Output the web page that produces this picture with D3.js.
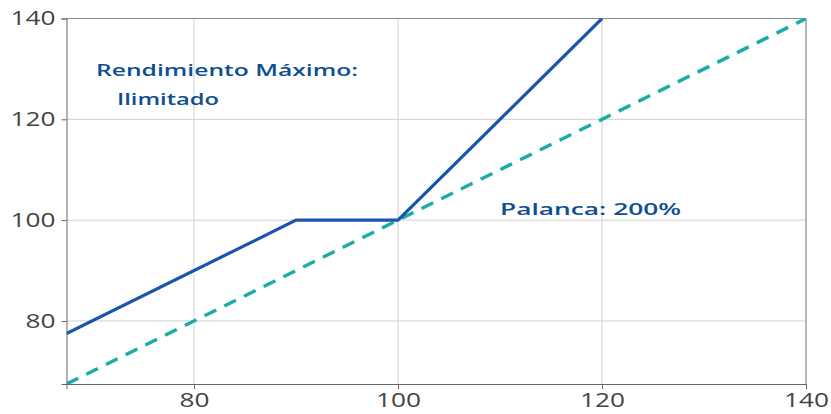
<!DOCTYPE html>
<html lang="es">
<head>
<meta charset="utf-8">
<title>Palanca</title>
<script src="https://cdn.jsdelivr.net/npm/d3@7"></script>
<style>
  body { margin: 0; background: #fff; }
  .tick text { font-family: "Open Sans", sans-serif; font-size: 19.5px; fill: #444; }
  .note { font-family: "Open Sans", sans-serif; font-size: 17px; font-weight: 600; fill: #0d4f91; }
</style>
</head>
<body>
<script>
  // datos
  var precioSubyacente = [67.5, 90, 100, 120];
  var rendimientoProducto = [77.5, 100, 100, 140];
  var referenciaX = [67.5, 140];
  var referenciaY = [67.5, 140];
  var ticksX = [80, 100, 120, 140];
  var ticksY = [80, 100, 120, 140];

  var width = 831, height = 414;
  var margin = { top: 18.5, right: 25, bottom: 30, left: 66.5 };

  var svg = d3.select('body').append('svg')
    .attr('width', width)
    .attr('height', height);

  var x = d3.scaleLinear().domain([67.5, 140]).range([margin.left, width - margin.right]);
  var y = d3.scaleLinear().domain([67.5, 140]).range([height - margin.bottom, margin.top]);

  svg.append('clipPath').attr('id', 'plot')
    .append('rect')
    .attr('x', margin.left).attr('y', margin.top)
    .attr('width', x.range()[1] - margin.left)
    .attr('height', y.range()[0] - margin.top);

  // rejilla
  svg.append('g').selectAll('line').data(ticksX).enter().append('line')
    .attr('x1', d => x(d)).attr('x2', d => x(d))
    .attr('y1', margin.top).attr('y2', y.range()[0])
    .attr('stroke', '#d0d0d0').attr('stroke-width', 1);
  svg.append('g').selectAll('line').data(ticksY).enter().append('line')
    .attr('y1', d => y(d)).attr('y2', d => y(d))
    .attr('x1', margin.left).attr('x2', x.range()[1])
    .attr('stroke', '#d0d0d0').attr('stroke-width', 1);

  // borde superior y derecho
  svg.append('path')
    .attr('d', `M${margin.left},${margin.top}H${x.range()[1]}V${y.range()[0]}`)
    .attr('fill', 'none').attr('stroke', '#888').attr('stroke-width', 1);

  // ejes
  var xAxis = svg.append('g')
    .attr('transform', `translate(0, ${y.range()[0]})`)
    .call(d3.axisBottom(x).tickValues(ticksX).tickSize(5).tickPadding(4));
  var yAxis = svg.append('g')
    .attr('transform', `translate(${margin.left}, 0)`)
    .call(d3.axisLeft(y).tickValues(ticksY).tickSize(5).tickPadding(6));
  [xAxis, yAxis].forEach(function (g) {
    g.select('.domain').attr('stroke', '#666');
    g.selectAll('.tick line').attr('stroke', '#666');
    // las etiquetas del original son mas anchas
    g.selectAll('.tick text')
      .attr('textLength', d => String(d).length * 15)
      .attr('lengthAdjust', 'spacingAndGlyphs');
  });

  // lineas
  var line = d3.line().x(d => x(d[0])).y(d => y(d[1]));
  var g = svg.append('g').attr('clip-path', 'url(#plot)');

  g.append('path')
    .attr('d', line(d3.zip(referenciaX, referenciaY)))
    .attr('fill', 'none')
    .attr('stroke', '#19ada6')
    .attr('stroke-width', 3.5)
    .attr('stroke-dasharray', '13,9');

  g.append('path')
    .attr('d', line(d3.zip(precioSubyacente, rendimientoProducto)))
    .attr('fill', 'none')
    .attr('stroke', '#1a55ad')
    .attr('stroke-width', 3.2);

  // textos
  function note(px, py, w, txt) {
    svg.append('text').attr('class', 'note')
      .attr('x', px).attr('y', py)
      .attr('textLength', w).attr('lengthAdjust', 'spacingAndGlyphs')
      .text(txt);
  }
  note(96, 76, 262, 'Rendimiento Máximo:');
  note(117, 105, 102, 'Ilimitado');
  note(500, 215, 181, 'Palanca: 200%');
</script>
</body>
</html>
